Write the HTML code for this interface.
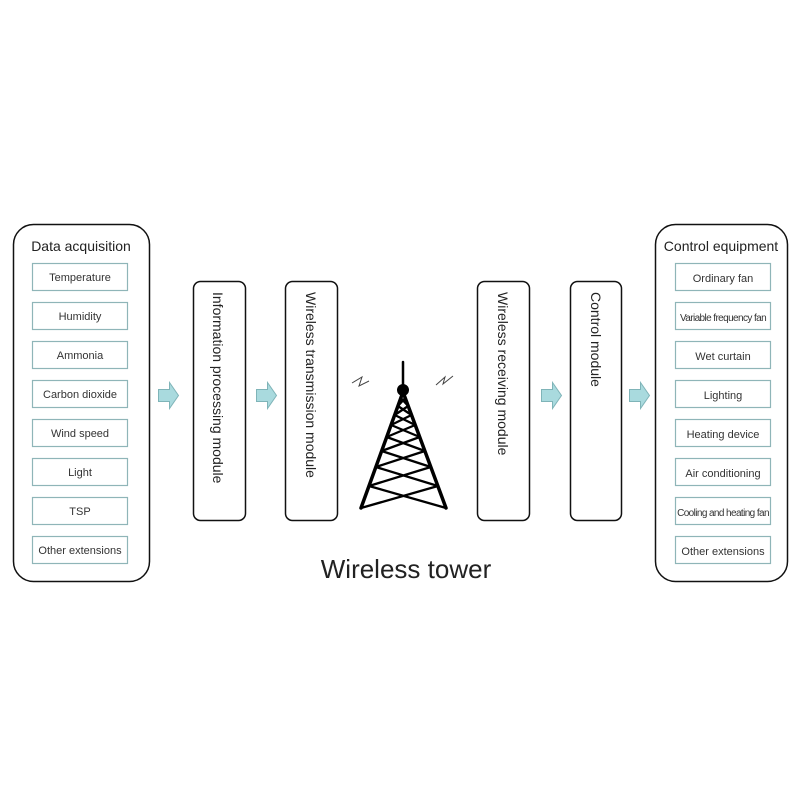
<!DOCTYPE html>
<html><head><meta charset="utf-8"><style>
html,body{margin:0;padding:0;background:#fff;}
svg{display:block;font-family:"Liberation Sans",sans-serif;}
</style></head><body>
<svg width="800" height="800" viewBox="0 0 800 800" xmlns="http://www.w3.org/2000/svg">
<rect width="800" height="800" fill="#fff"/>
<rect x="13.5" y="224.5" width="136" height="357" rx="20" fill="none" stroke="#111" stroke-width="1.5"/>
<text x="81" y="251" font-size="14" text-anchor="middle" fill="#222">Data acquisition</text>
<g stroke="#8fb5b8" stroke-width="1.2" fill="#fff">
<rect x="32.5" y="263.5" width="95" height="27"/>
<rect x="32.5" y="302.5" width="95" height="27"/>
<rect x="32.5" y="341.5" width="95" height="27"/>
<rect x="32.5" y="380.5" width="95" height="27"/>
<rect x="32.5" y="419.5" width="95" height="27"/>
<rect x="32.5" y="458.5" width="95" height="27"/>
<rect x="32.5" y="497.5" width="95" height="27"/>
<rect x="32.5" y="536.5" width="95" height="27"/>
</g>
<g font-size="11" text-anchor="middle" fill="#333">
<text x="80" y="281">Temperature</text>
<text x="80" y="320">Humidity</text>
<text x="80" y="359">Ammonia</text>
<text x="80" y="398">Carbon dioxide</text>
<text x="80" y="437">Wind speed</text>
<text x="80" y="476">Light</text>
<text x="80" y="515">TSP</text>
<text x="80" y="554">Other extensions</text>
</g>
<rect x="655.5" y="224.5" width="132" height="357" rx="20" fill="none" stroke="#111" stroke-width="1.5"/>
<text x="721" y="251" font-size="14" text-anchor="middle" fill="#222">Control equipment</text>
<g stroke="#8fb5b8" stroke-width="1.2" fill="#fff">
<rect x="675.5" y="263.5" width="95" height="27"/>
<rect x="675.5" y="302.5" width="95" height="27"/>
<rect x="675.5" y="341.5" width="95" height="27"/>
<rect x="675.5" y="380.5" width="95" height="27"/>
<rect x="675.5" y="419.5" width="95" height="27"/>
<rect x="675.5" y="458.5" width="95" height="27"/>
<rect x="675.5" y="497.5" width="95" height="27"/>
<rect x="675.5" y="536.5" width="95" height="27"/>
</g>
<g font-size="11" text-anchor="middle" fill="#333">
<text x="723" y="282">Ordinary fan</text>
<text x="723" y="321" font-size="10" letter-spacing="-0.6">Variable frequency fan</text>
<text x="723" y="360">Wet curtain</text>
<text x="723" y="399">Lighting</text>
<text x="723" y="438">Heating device</text>
<text x="723" y="477">Air conditioning</text>
<text x="723" y="516" font-size="10" letter-spacing="-0.6">Cooling and heating fan</text>
<text x="723" y="555">Other extensions</text>
</g>
<g fill="#fff" stroke="#111" stroke-width="1.5">
<rect x="193.5" y="281.5" width="52" height="239" rx="7"/>
<rect x="285.5" y="281.5" width="52" height="239" rx="7"/>
<rect x="477.5" y="281.5" width="52" height="239" rx="7"/>
<rect x="570.5" y="281.5" width="51" height="239" rx="7"/>
</g>
<g font-size="14" fill="#222">
<text transform="translate(213,292) rotate(90)">Information processing module</text>
<text transform="translate(306,292) rotate(90)">Wireless transmission module</text>
<text transform="translate(498,292) rotate(90)">Wireless receiving module</text>
<text transform="translate(591,292) rotate(90)">Control module</text>
</g>
<g fill="#a9dade" stroke="#7fb4b8" stroke-width="1">
<path d="M158.5 389.5 h11 v-7 l9 13 l-9 13 v-7 h-11 z"/>
<path d="M256.5 389.5 h11 v-7 l9 13 l-9 13 v-7 h-11 z"/>
<path d="M541.5 389.5 h11 v-7 l9 13 l-9 13 v-7 h-11 z"/>
<path d="M629.5 389.5 h11 v-7 l9 13 l-9 13 v-7 h-11 z"/>
</g>
<g stroke="#000" fill="none" stroke-linecap="round">
<line x1="403" y1="362" x2="403" y2="390" stroke-width="2.5"/>
<circle cx="403" cy="390" r="5.5" fill="#000"/>
<path d="M403 392 L361 508 M403 392 L446 508" stroke-width="3.5"/>
<path d="M400.8 398 L408.2 406 M405.2 398 L397.9 406
M397.9 406 L411.5 415 M408.2 406 L394.7 415
M394.7 415 L415.2 425 M411.5 415 L391.1 425
M391.1 425 L419.7 437 M415.2 425 L386.7 437
M386.7 437 L424.9 451 M419.7 437 L381.6 451
M381.6 451 L430.8 467 M424.9 451 L375.9 467
M375.9 467 L437.9 486 M430.8 467 L369.0 486
M369.0 486 L446 508 M437.9 486 L361 508" stroke-width="2.3"/>
</g>
<path d="M352 383 l10 -6 l-3 9 l10 -5" stroke="#444" fill="none" stroke-width="1"/>
<path d="M436 385 l9 -8 l-2 7 l10 -8" stroke="#444" fill="none" stroke-width="1"/>
<text x="406" y="578" font-size="26" text-anchor="middle" fill="#222">Wireless tower</text>
</svg>
</body></html>
